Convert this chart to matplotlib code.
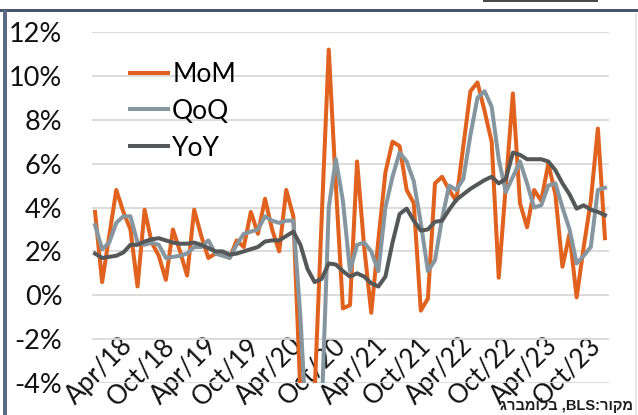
import matplotlib
matplotlib.use('Agg')
import matplotlib.pyplot as plt
from matplotlib.patches import Rectangle

# monthly data, Oct 2017 .. Oct 2023 (annualised %)
months = (['Oct/17', 'Nov/17', 'Dec/17']
          + [f'{m}/{y}' for y in ['18', '19', '20', '21', '22']
             for m in ['Jan', 'Feb', 'Mar', 'Apr', 'May', 'Jun', 'Jul', 'Aug', 'Sep', 'Oct', 'Nov', 'Dec']]
          + [f'{m}/23' for m in ['Jan', 'Feb', 'Mar', 'Apr', 'May', 'Jun', 'Jul', 'Aug', 'Sep', 'Oct']])

mom = [3.8, 0.6, 2.7,
       4.8, 3.8, 3.0, 0.4, 3.9, 2.4, 1.8, 0.7, 3.0, 2.0, 0.9, 3.9,
       2.7, 1.7, 1.9, 1.9, 1.7, 2.5, 2.2, 3.8, 2.8, 4.4, 3.0, 2.0,
       4.8, 3.6, -4.5, -9.0, -4.5, 3.5, 11.2, 5.0, -0.6, -0.45, 6.1, 2.2,
       -0.8, 2.5, 5.6, 7.0, 6.8, 4.8, 4.2, -0.7, -0.15, 5.1, 5.4, 4.8,
       4.3, 6.8, 9.3, 9.7, 8.4, 7.0, 0.8, 5.0, 9.2, 4.2, 3.1, 4.8,
       4.3, 6.0, 4.6, 1.3, 2.8, -0.1, 2.2, 4.3, 7.6, 2.6]

qoq = [3.2, 2.1, 2.4,
       3.3, 3.6, 3.6, 2.4, 2.3, 2.4, 2.3, 1.7, 1.75, 1.8, 1.9, 2.2,
       2.2, 2.5, 1.9, 1.8, 1.7, 2.3, 2.8, 2.9, 3.0, 3.6, 3.4, 3.3,
       3.4, 3.4, -1.0, -7.0, -6.0, -5.3, 4.0, 6.2, 4.3, 1.1, 2.3, 2.4,
       2.0, 1.1, 4.0, 5.4, 6.5, 6.1, 5.2, 3.3, 1.1, 1.6, 3.5, 5.0,
       4.8, 5.3, 7.3, 9.0, 9.3, 8.6, 6.2, 4.7, 5.4, 6.1, 5.1, 4.0,
       4.1, 5.0, 5.1, 4.0, 3.0, 1.45, 1.8, 2.2, 4.8, 4.9]

yoy = [1.9, 1.7, 1.75,
       1.8, 1.95, 2.3, 2.3, 2.45, 2.55, 2.6, 2.5, 2.4, 2.35, 2.35, 2.4,
       2.3, 2.15, 2.0, 2.0, 1.85, 1.9, 2.0, 2.1, 2.2, 2.45, 2.5, 2.5,
       2.7, 2.9, 2.3, 1.2, 0.6, 0.75, 1.45, 1.4, 1.1, 0.85, 1.0, 0.85,
       0.55, 0.4, 0.85, 2.4, 3.7, 3.95, 3.4, 2.95, 3.0, 3.35, 3.4, 3.9,
       4.35, 4.6, 4.85, 5.05, 5.25, 5.4, 5.1, 5.3, 6.5, 6.4, 6.2, 6.2,
       6.2, 6.1, 5.7, 5.1, 4.6, 3.95, 4.1, 3.9, 3.8, 3.65]

tick_labels = ['Apr/18', 'Oct/18', 'Apr/19', 'Oct/19', 'Apr/20', 'Oct/20',
               'Apr/21', 'Oct/21', 'Apr/22', 'Oct/22', 'Apr/23', 'Oct/23']
yticks = [-4, -2, 0, 2, 4, 6, 8, 10, 12]
# the reference shows the glyphs left-to-right; the text engine reorders RTL runs,
# so hand it the runs in reverse so it lands the same way on screen
source = 'גרבמולב ,BLS:רוקמ'

plt.rcParams['font.family'] = ['Lato', 'DejaVu Sans']

W, H = 638, 415
fig = plt.figure(figsize=(W / 100, H / 100), dpi=100)
ax = fig.add_axes([91.5 / W, 1 - 383 / H, 517 / W, 351 / H])

x = list(range(len(months)))
ax.plot(x, mom, color='#E0621E', lw=2.9, solid_joinstyle='round', label='MoM')
ax.plot(x, qoq, color='#8696A0', lw=2.9, solid_joinstyle='round', label='QoQ')
ax.plot(x, yoy, color='#555759', lw=2.9, solid_joinstyle='round', label='YoY')

ax.set_xlim(-0.5, len(months) - 0.5)
ax.set_ylim(-4, 12)
ax.set_yticks(yticks)
ax.set_yticklabels([f'{v}%' for v in yticks])
ax.grid(axis='y', color='#D9D9D9', lw=1.3)
ax.set_axisbelow(True)
for s in ax.spines.values():
    s.set_visible(False)
ax.tick_params(axis='y', length=0, pad=21, labelsize=19.5, labelcolor='#111111')

# x labels sit inside the plot, above the -4% line
ax.set_xticks([months.index(t) for t in tick_labels])
ax.set_xticklabels(tick_labels, rotation=45, ha='right', va='top')
ax.tick_params(axis='x', length=0, pad=-36, labelsize=18.5, labelcolor='#111111')

ax.legend(loc='upper left', bbox_to_anchor=(0.0745, 0.915), frameon=False,
          fontsize=19, handlelength=1.45, handletextpad=0.15, labelspacing=0.45,
          borderpad=0, borderaxespad=0)

# frame bits
fig.add_artist(Rectangle((0, 1 - 12.5 / H), 1, 3.5 / H, transform=fig.transFigure,
                         color='#46556B', lw=0))
fig.add_artist(Rectangle((3 / W, 0), 3.5 / W, 1 - 10 / H, transform=fig.transFigure,
                         color='#5A6A84', lw=0))
fig.add_artist(Rectangle((483 / W, 1 - 2 / H), 115 / W, 2 / H, transform=fig.transFigure,
                         color='#4A4A4A', lw=0))
fig.add_artist(Rectangle((635 / W, 0), 1.5 / W, 1 - 13 / H, transform=fig.transFigure,
                         color='#E6E6E6', lw=0))

fig.text(633 / W, 1 - 405 / H, source, ha='right', va='center', fontsize=10.5,
         fontweight='bold', color='#1E1E1E', family=['Liberation Sans', 'DejaVu Sans'])

fig.savefig('out.png', dpi=100)
